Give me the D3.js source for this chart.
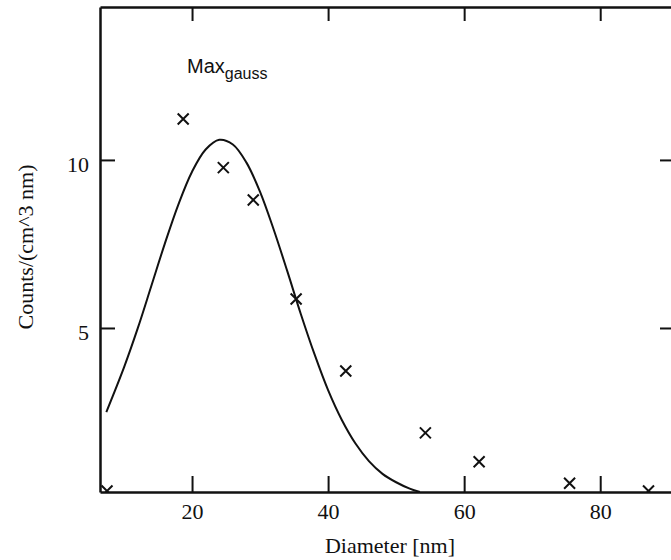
<!DOCTYPE html>
<html>
<head>
<meta charset="utf-8">
<script src="https://cdn.jsdelivr.net/npm/d3@7"></script>
<style>
  body { margin: 0; background: #fff; }
  .axis path, .axis line { stroke: #111; }
  .axis text { font-family: "Liberation Serif", "DejaVu Serif", serif; font-size: 22px; fill: #111; }
</style>
</head>
<body>
<script>
// measured particle counts (crosses)
var diameters = [7.5, 18.7, 24.6, 29.0, 35.3, 42.6, 54.3, 62.2, 75.5, 87.1];
var counts    = [0.15, 11.22, 9.77, 8.81, 5.86, 3.72, 1.88, 1.02, 0.38, 0.15];

// fitted curve
var fitDiameters = [7.4, 10, 12, 14, 16, 18, 20, 22, 24, 26, 28, 30, 32, 34, 36, 38, 40, 42, 44, 46, 48, 50, 52, 53.5];
var fitCounts    = [2.5, 3.83, 4.98, 6.24, 7.51, 8.68, 9.65, 10.31, 10.6, 10.46, 9.92, 9.05, 7.93, 6.69, 5.41, 4.22, 3.15, 2.27, 1.57, 1.04, 0.66, 0.41, 0.22, 0.12];

var xTicks = [20, 40, 60, 80];
var yTicks = [5, 10];

function drawChart() {
  var W = 671, H = 560;
  var mLeft = 100, mRight = 673, mTop = 7, mBottom = 492;

  var svg = d3.select("body").append("svg")
      .attr("width", W)
      .attr("height", H);

  var x = d3.scaleLinear().domain([6.47, 90.7]).range([mLeft, mRight]);
  var y = d3.scaleLinear().domain([0.12, 14.55]).range([mBottom, mTop]);

  svg.append("clipPath")
      .attr("id", "plot")
    .append("rect")
      .attr("x", mLeft).attr("y", mTop)
      .attr("width", mRight - mLeft).attr("height", mBottom - mTop);

  var plot = svg.append("g").attr("clip-path", "url(#plot)");

  // the curve
  var line = d3.line()
      .x(function(d) { return x(d[0]); })
      .y(function(d) { return y(d[1]); })
      .curve(d3.curveCatmullRom);

  plot.append("path")
      .datum(fitDiameters.map(function(d, i) { return [d, fitCounts[i]]; }))
      .attr("d", line)
      .attr("fill", "none")
      .attr("stroke", "#111")
      .attr("stroke-width", 2);

  // crosses
  var s = 5.5;
  plot.selectAll(".pt")
      .data(diameters)
    .enter().append("path")
      .attr("class", "pt")
      .attr("transform", function(d, i) { return "translate(" + x(d) + "," + y(counts[i]) + ")"; })
      .attr("d", "M" + (-s) + "," + (-s) + "L" + s + "," + s + "M" + (-s) + "," + s + "L" + s + "," + (-s))
      .attr("stroke", "#111")
      .attr("stroke-width", 2);

  // axes, ticks pointing inward
  svg.append("g")
      .attr("class", "axis")
      .attr("transform", "translate(0," + mBottom + ")")
      .call(d3.axisBottom(x).tickValues(xTicks).tickSize(-16).tickSizeOuter(0).tickPadding(11));

  svg.append("g")
      .attr("class", "axis")
      .attr("transform", "translate(0," + mTop + ")")
      .call(d3.axisTop(x).tickValues(xTicks).tickSize(-14).tickSizeOuter(0).tickFormat(""));

  var gy = svg.append("g")
      .attr("class", "axis")
      .attr("transform", "translate(" + mLeft + ",0)")
      .call(d3.axisLeft(y).tickValues(yTicks).tickSize(-15).tickSizeOuter(0).tickPadding(11));
  gy.selectAll("text").attr("dy", "0.52em");

  svg.append("g")
      .attr("class", "axis")
      .attr("transform", "translate(" + mRight + ",0)")
      .call(d3.axisRight(y).tickValues(yTicks).tickSize(-13).tickSizeOuter(0).tickFormat(""));

  svg.selectAll(".axis path").attr("stroke-width", 2.5);
  svg.selectAll(".axis line").attr("stroke-width", 2);

  // axis titles
  svg.append("text")
      .attr("x", 390)
      .attr("y", 553)
      .attr("text-anchor", "middle")
      .style("font-family", "Liberation Serif, serif")
      .style("font-size", "22px")
      .attr("fill", "#111")
      .text("Diameter [nm]");

  svg.append("text")
      .attr("transform", "translate(33,247) rotate(-90)")
      .attr("text-anchor", "middle")
      .style("font-family", "Liberation Serif, serif")
      .style("font-size", "22px")
      .attr("fill", "#111")
      .text("Counts/(cm^3 nm)");

  // label
  var lab = svg.append("text")
      .attr("x", 187)
      .attr("y", 73)
      .style("font-family", "Liberation Sans, sans-serif")
      .style("font-size", "20px")
      .attr("fill", "#111");
  lab.append("tspan").text("Max");
  lab.append("tspan").attr("dy", 6).style("font-size", "16px").text("gauss");
}

drawChart();
</script>
</body>
</html>
